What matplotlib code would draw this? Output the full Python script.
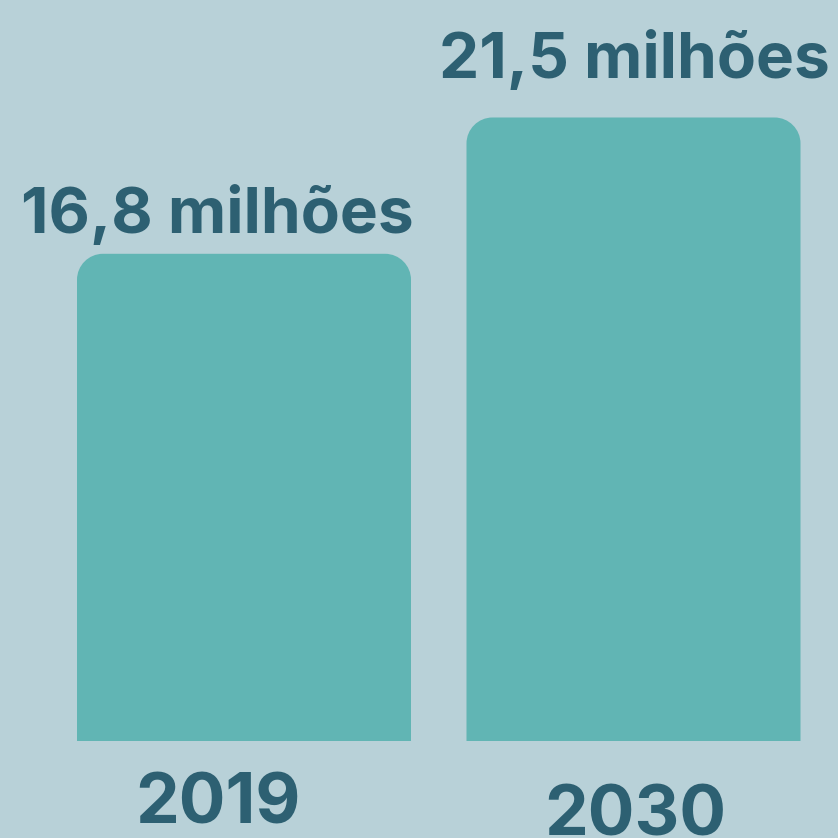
import matplotlib
matplotlib.use("Agg")
import matplotlib.pyplot as plt
from matplotlib.path import Path
from matplotlib.patches import PathPatch

years = ["2019", "2030"]
values = [16.8, 21.5]
value_labels = ["16,8 milhões", "21,5 milhões"]

bg = "#b8d1d8"
bar_color = "#61b5b4"
text_color = "#2d6072"

fig = plt.figure(figsize=(8.38, 8.38), dpi=100, facecolor=bg)
ax = fig.add_axes([0, 0, 1, 1])
ax.set_facecolor(bg)

# pixel-ish mapping: 29 px per unit on y, baseline 97 px from bottom
ax.set_ylim(-97 / 29, (838 - 97) / 29)
ax.set_xlim(-244 / 389.5, (838 - 244) / 389.5)
ax.axis("off")

x = list(range(len(years)))
bars = ax.bar(x, values, width=334 / 389.5, color=bar_color)

# replace bars with rounded-top versions
rx = 26 / 389.5
ry = 26 / 29
k = 0.5523
for b in bars:
    x0, y0 = b.get_x(), b.get_y()
    x1, y1 = x0 + b.get_width(), y0 + b.get_height()
    verts = [
        (x0, y0), (x0, y1 - ry),
        (x0, y1 - ry + k * ry), (x0 + rx - k * rx, y1), (x0 + rx, y1),
        (x1 - rx, y1),
        (x1 - rx + k * rx, y1), (x1, y1 - ry + k * ry), (x1, y1 - ry),
        (x1, y0), (x0, y0),
    ]
    codes = [Path.MOVETO, Path.LINETO,
             Path.CURVE4, Path.CURVE4, Path.CURVE4,
             Path.LINETO,
             Path.CURVE4, Path.CURVE4, Path.CURVE4,
             Path.LINETO, Path.CLOSEPOLY]
    b.set_visible(False)
    ax.add_patch(PathPatch(Path(verts, codes), facecolor=bar_color,
                           edgecolor="none"))

font = dict(family=["Inter", "DejaVu Sans"], fontweight="bold",
            color=text_color)

label_dx = [-27, 1]
label_dy = [21, 40]
year_dx = [-26, 2]
year_dy = [-82, -94]

for i, b in enumerate(bars):
    cx = b.get_x() + b.get_width() / 2
    ax.annotate(value_labels[i], (cx, values[i]),
                xytext=(label_dx[i], label_dy[i]), textcoords="offset pixels",
                ha="center", va="baseline", fontsize=46, **font)
    ax.annotate(years[i], (cx, 0),
                xytext=(year_dx[i], year_dy[i]), textcoords="offset pixels",
                ha="center", va="baseline", fontsize=50, **font)

fig.savefig("out.png", dpi=100, facecolor=bg)
